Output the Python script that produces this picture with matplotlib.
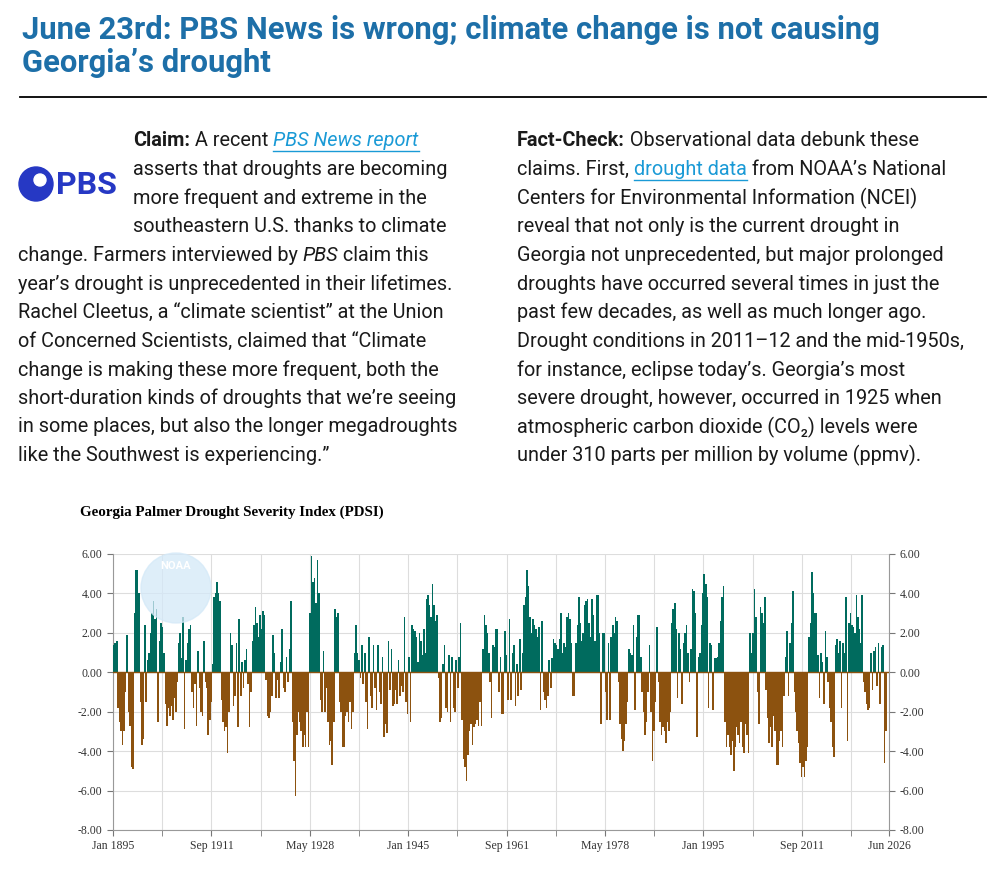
import numpy as np
import matplotlib
matplotlib.use("Agg")
import matplotlib.pyplot as plt
from matplotlib.transforms import IdentityTransform
from matplotlib.lines import Line2D
from matplotlib.patches import Circle

# quarterly PDSI values, one row per year
pdsi_rows = [
    [1.4, 1.5, 1.6, -1.8], [-2.5, -3.0, -3.7, -3.0], [-1.0, 1.9, -2.0, -2.7],
    [-4.8, -4.9, 3.0, 5.2], [5.2, 4.0, -1.5, -3.7], [-3.4, 2.4, -1.5, 0.6],
    [1.0, 2.0, 3.0, 3.6], [2.7, 3.2, -2.5, 1.6], [2.5, 2.3, 1.0, -1.6],
    [-2.7, -1.8, -2.2, -1.7], [-2.4, -1.3, -2.0, -0.5], [1.5, 2.0, 0.7, 2.8],
    [-2.9, 0.6, 1.5, 2.2], [2.4, -1.0, -1.8, -0.6], [-2.7, 1.1, -0.8, -2.0],
    [-2.2, 1.6, -0.5, -0.8], [-3.2, -2.4, -1.5, 0.4], [3.8, 4.0, 4.6, 4.0],
    [3.6, -1.4, -2.5, -3.0], [-2.8, -4.1, -2.0, 2.0], [1.4, -1.7, -1.2, 1.5],
    [-2.8, 2.7, -1.2, 0.5], [-0.8, 0.6, 1.2, -0.6], [-2.8, -1.0, 1.6, 2.4],
    [3.3, 2.5, 1.8, 2.9], [2.2, 3.1, 2.9, -0.4], [-2.2, -2.3, -2.0, -1.2],
    [1.9, 1.0, -1.3, -0.4], [-1.3, 0.5, 2.2, -0.8], [-1.0, 0.8, -0.5, 1.2],
    [3.6, -2.5, -4.5, -6.3], [-3.2, -2.0, -2.5, -3.0], [-3.8, -3.2, -3.8, -2.0],
    [-3.8, 3.0, 5.9, 4.6], [4.8, 3.5, 5.7, 4.0], [-1.4, -2.0, 1.1, -2.0],
    [-0.8, -2.5, -3.7, -3.5], [-4.7, -2.5, 3.2, 2.8], [3.0, -1.5, -2.0, -3.8],
    [-3.8, -2.2, -2.0, -2.5], [-1.5, -2.9, -2.0, 1.0], [2.4, 1.0, 0.6, -0.3],
    [1.4, -0.6, 1.0, -1.5], [-2.9, 1.8, -1.2, -1.8], [1.4, -0.8, -1.9, 1.4],
    [-1.0, -1.6, 0.8, -3.3], [-2.6, -3.1, 1.6, -0.9], [1.2, -1.7, -1.6, -0.9],
    [-1.6, 0.6, -1.2, -0.7], [-1.0, 2.8, -1.5, -2.1], [0.8, -2.5, 2.4, 2.2],
    [2.1, 1.8, 0.5, 2.0], [1.6, 0.9, 2.2, 1.0], [3.7, 3.9, 3.4, 2.8],
    [4.5, 3.4, 2.6, 2.9], [-0.3, -2.5, -2.3, 0.4], [1.4, -1.8, -2.0, 0.9],
    [-2.5, 0.8, -1.8, -2.0], [0.6, -0.8, 0.8, 2.5], [-2.4, -4.4, -4.8, -5.5],
    [-4.2, -3.0, -2.6, -3.7], [-2.8, -2.6, -2.4, -2.7], [-1.5, -2.7, 1.2, 2.9],
    [2.4, 2.0, 1.0, -0.5], [-2.3, 1.4, 1.3, 2.2], [2.2, -1.0, 0.8, -2.1],
    [-2.1, 2.1, 0.9, -1.4], [2.7, -1.4, 1.0, 1.4], [-1.7, 0.4, -1.2, 1.7],
    [-0.9, 1.0, 3.4, 3.8], [5.2, 4.4, 2.8, 2.0], [2.7, 2.4, 2.2, 1.8],
    [2.3, -1.9, 2.6, -1.0], [-1.4, -1.8, -1.2, 0.6], [-0.8, 0.7, 1.7, 1.5],
    [1.4, 1.2, 1.7, 3.0], [1.0, 1.5, 1.3, 2.8], [3.0, 2.7, 1.5, -1.2],
    [-1.2, 1.5, 2.4, 3.8], [2.5, 1.6, 2.0, 3.4], [3.6, 3.7, 2.5, 1.8],
    [3.7, 2.9, 1.6, 3.9], [3.9, 2.0, -2.6, 2.0], [2.0, -1.0, -2.4, 1.5],
    [-2.4, 1.8, 2.4, 2.0], [2.8, 2.6, -0.5, -2.6], [-3.4, -4.0, -3.5, -2.6],
    [-1.5, 1.2, 1.0, 0.9], [2.4, -1.9, 1.8, 2.9], [2.9, 0.8, -1.0, -2.0],
    [-3.2, -2.5, -1.0, 1.4], [-2.0, -4.5, -3.0, -1.5], [2.3, -0.5, -2.5, -3.2],
    [-2.8, -3.0, -3.6, -2.5], [-3.0, -2.0, 2.5, 3.2], [3.5, 2.2, -1.3, 2.0],
    [1.2, -1.6, 1.5, 2.0], [2.4, 1.0, -0.5, 1.2], [4.2, 4.1, 3.0, -3.3],
    [0.8, 1.0, 2.4, 4.0], [5.0, 4.5, 3.8, -1.8], [1.5, 1.4, -1.9, 0.7],
    [0.7, 0.8, 1.5, 2.6], [3.8, 4.4, -2.5, -3.8], [-3.2, -3.8, -4.2, -3.5],
    [-5.0, -3.8, -2.8, -3.2], [-3.6, -2.5, -3.8, -4.1], [-2.6, -3.2, -4.1, 2.0],
    [1.0, 2.0, 4.2, 2.8], [-1.0, -2.6, 3.3, 3.0], [2.5, 3.8, -0.9, -2.3],
    [-3.6, -2.8, -3.8, -2.2], [-3.0, -4.7, -4.7, -3.5], [-3.0, -3.8, -1.2, 0.8],
    [2.1, -1.2, 1.5, 2.5], [4.1, -1.0, -2.0, -3.0], [-3.6, -4.6, -5.3, -4.8],
    [-5.3, -4.5, -3.8, 1.8], [2.5, 5.1, 4.0, 3.0], [3.0, 0.9, -1.3, 1.0],
    [0.5, -1.6, 2.1, 0.8], [-0.5, -1.8, -2.5, -3.8], [-4.3, 1.4, 1.7, 1.0],
    [1.6, -1.8, 1.5, 1.0], [3.8, -3.5, 2.5, 3.0], [2.4, 2.3, 2.0, 3.9],
    [2.8, 2.2, 1.5, 3.9], [-0.5, -1.0, -1.6, -1.9], [-1.8, 1.0, -0.9, 1.1],
    [1.3, -0.7, 1.5, -1.6], [1.3, 1.4, -4.6, -3.0],
]
pdsi = np.array(pdsi_rows).ravel()
years = 1895 + np.arange(len(pdsi)) * 0.25

tick_labels = ["Jan 1895", "Sep 1911", "May 1928", "Jan 1945", "Sep 1961",
               "May 1978", "Jan 1995", "Sep 2011", "Jun 2026"]
tick_years = [1895.0, 1911.67, 1928.33, 1945.0, 1961.67, 1978.33, 1995.0, 2011.67, 2026.42]

W, H = 1001, 883
fig = plt.figure(figsize=(W / 100, H / 100), dpi=100)
fig.patch.set_facecolor("white")
ID = IdentityTransform()
FONT = "Roboto"
BLUE = "#1d6fa8"
LINK = "#1a9ad6"

def px_text(x, y, s, **kw):
    return fig.text(x, H - y, s, transform=ID, **kw)

# title
for y, s in [(30, "June 23rd: PBS News is wrong; climate change is not causing"),
             (63, "Georgia’s drought")]:
    px_text(22, y, s, fontsize=22.3, fontweight="bold", color=BLUE, family=FONT, va="center")
fig.add_artist(Line2D([20, 986], [H - 97, H - 97], transform=ID, color="black", lw=1.3))

renderer = fig.canvas.get_renderer()

def draw_runs(x, y, runs, size=14.3):
    for s, style in runs:
        kw = dict(fontsize=size, family=FONT, va="center", color="#1a1a1a")
        if "b" in style:
            kw["fontweight"] = "bold"
        if "i" in style:
            kw["fontstyle"] = "italic"
        if "l" in style:
            kw["color"] = LINK
        t = px_text(x, y, s, **kw)
        w = t.get_window_extent(renderer).width
        if "l" in style:
            fig.add_artist(Line2D([x, x + w], [H - y - 10, H - y - 10], transform=ID,
                                  color=LINK, lw=1))
        x += w

line_y = [141 + 28.6 * i for i in range(12)]
left_lines = [
    (133, [("Claim:", "b"), (" A recent ", ""), ("PBS News report", "il")]),
    (133, [("asserts that droughts are becoming", "")]),
    (133, [("more frequent and extreme in the", "")]),
    (133, [("southeastern U.S. thanks to climate", "")]),
    (18, [("change. Farmers interviewed by ", ""), ("PBS", "i"), (" claim this", "")]),
    (18, [("year’s drought is unprecedented in their lifetimes.", "")]),
    (18, [("Rachel Cleetus, a “climate scientist” at the Union", "")]),
    (18, [("of Concerned Scientists, claimed that “Climate", "")]),
    (18, [("change is making these more frequent, both the", "")]),
    (18, [("short-duration kinds of droughts that we’re seeing", "")]),
    (18, [("in some places, but also the longer megadroughts", "")]),
    (18, [("like the Southwest is experiencing.”", "")]),
]
right_lines = [
    [("Fact-Check:", "b"), (" Observational data debunk these", "")],
    [("claims. First, ", ""), ("drought data", "l"), (" from NOAA’s National", "")],
    [("Centers for Environmental Information (NCEI)", "")],
    [("reveal that not only is the current drought in", "")],
    [("Georgia not unprecedented, but major prolonged", "")],
    [("droughts have occurred several times in just the", "")],
    [("past few decades, as well as much longer ago.", "")],
    [("Drought conditions in 2011–12 and the mid-1950s,", "")],
    [("for instance, eclipse today’s. Georgia’s most", "")],
    [("severe drought, however, occurred in 1925 when", "")],
    [("atmospheric carbon dioxide (CO₂) levels were", "")],
    [("under 310 parts per million by volume (ppmv).", "")],
]
for y, (x, runs) in zip(line_y, left_lines):
    draw_runs(x, y, runs)
for y, runs in zip(line_y, right_lines):
    draw_runs(517, y, runs)

# PBS logo
fig.add_artist(Circle((36, H - 184), 17, transform=ID, color="#2638c4"))
fig.add_artist(Circle((40, H - 180), 6, transform=ID, color="white"))
px_text(56, 185, "PBS", fontsize=23, fontweight="bold", color="#2638c4", family=FONT, va="center")

# chart
px_text(80, 512, "Georgia Palmer Drought Severity Index (PDSI)", fontsize=10.8,
        fontweight="bold", family="Liberation Serif", va="center")
ax = fig.add_axes([113 / W, 1 - 830 / H, 776 / W, 276 / H])
colors = np.where(pdsi >= 0, "#006b5e", "#8c520f")
ax.bar(years, pdsi, width=0.27, align="edge", color=colors, linewidth=0, zorder=3)
ax.axhline(0, color="#8c520f", lw=1, zorder=4)
ax.set_xlim(1895, 2026.42)
ax.set_ylim(-8, 6)
yt = np.arange(-8, 7, 2)
ax.set_yticks(yt)
ax.set_yticklabels([f"{v:.2f}" for v in yt])
minor = [t + 8.33 for t in tick_years[:-1]]
ax.set_xticks(tick_years)
ax.set_xticklabels(tick_labels)
ax.set_xticks(minor, minor=True)
ax.grid(True, which="both", color="#dddddd", lw=0.8, zorder=0)
ax.tick_params(axis="both", which="both", labelsize=8.5, colors="#777777", length=4)
ax.tick_params(axis="y", right=True, labelright=True)
for lbl in ax.get_xticklabels() + ax.get_yticklabels():
    lbl.set_family("Liberation Serif")
    lbl.set_color("#333333")
ax.spines["top"].set_visible(False)
for side in ["left", "right", "bottom"]:
    ax.spines[side].set_color("#999999")

# NOAA watermark
fig.add_artist(Circle((176, H - 588), 35, transform=ID, color="#d4e9f8", alpha=0.75, zorder=10))
px_text(176, 566, "NOAA", fontsize=8, fontweight="bold", color="white", family=FONT,
        ha="center", va="center", zorder=11)

fig.savefig("out.png", dpi=100)
